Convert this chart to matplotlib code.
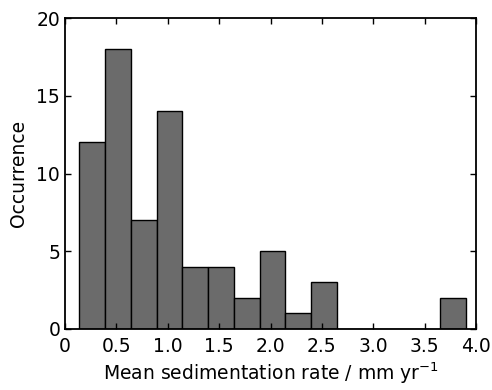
import numpy as np
import matplotlib
matplotlib.use("Agg")
import matplotlib.pyplot as plt

plt.rcParams['font.family'] = ['DejaVu Sans']
plt.rcParams['mathtext.default'] = 'regular'

bin_start = 0.14
bin_end = 3.90
counts = [12, 18, 7, 14, 4, 4, 2, 5, 1, 3, 0, 0, 0, 0, 2]
x_ticks = [0, 0.5, 1.0, 1.5, 2.0, 2.5, 3.0, 3.5, 4.0]
x_ticklabels = ['0', '0.5', '1.0', '1.5', '2.0', '2.5', '3.0', '3.5', '4.0']
y_ticks = [0, 5, 10, 15, 20]

edges = np.linspace(bin_start, bin_end, len(counts) + 1)
centers = (edges[:-1] + edges[1:]) / 2

fig = plt.figure(figsize=(4.92, 3.90), dpi=100)
ax = fig.add_axes([65/492, 61/390, (476-65)/492, (329-18)/390])
ax.hist(centers, bins=edges, weights=counts, color='#6b6b6b',
        edgecolor='black', linewidth=1.0)
ax.set_xlim(0, 4.0)
ax.set_ylim(0, 20)
ax.set_xticks(x_ticks)
ax.set_xticklabels(x_ticklabels)
ax.set_yticks(y_ticks)
ax.tick_params(direction='in', top=True, right=True, length=4, width=1.0,
               labelsize=13.5)
ax.tick_params(axis='x', pad=6)
ax.tick_params(axis='y', pad=3.5)
for s in ax.spines.values():
    s.set_linewidth(1.3)
ax.set_xlabel('Mean sedimentation rate / mm yr$^{-1}$', fontsize=13.5, labelpad=3)
ax.set_ylabel('Occurrence', fontsize=13.5, labelpad=6)
fig.savefig('out.png', dpi=100)
